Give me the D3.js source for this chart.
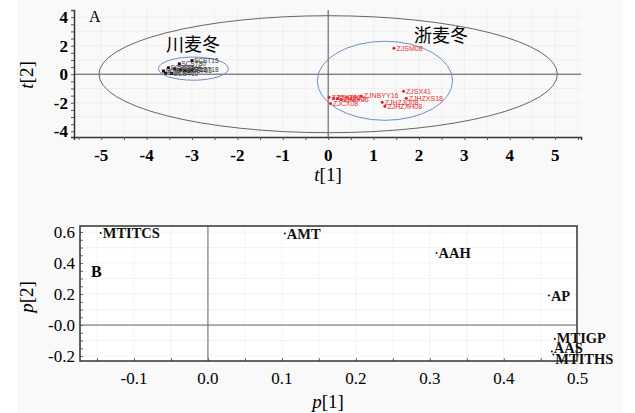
<!DOCTYPE html>
<html>
<head>
<meta charset="utf-8">
<script src="https://cdn.jsdelivr.net/npm/d3@7"></script>
<style>
  body { margin: 0; background: #fff; }
  text { font-family: "Liberation Serif", "Times New Roman", serif; }
</style>
</head>
<body>
<svg width="635" height="413"></svg>
<script>
// score plot, group 川麦冬
var scNames = ["SCST15", "SCST80", "SCST21", "SCST09", "SCST16", "SCST12", "SCST18", "SCST10", "SCST05", "SCST03"];
var scT1 = [-3.0, -3.28, -3.52, -3.63, -3.58, -3.26, -3.0, -3.45, -3.38, -3.15];
var scT2 = [0.95, 0.72, 0.45, 0.22, 0.08, 0.30, 0.30, 0.05, 0.38, 0.25];
// score plot, group 浙麦冬
var zjNames = ["ZJSM08", "ZJSX41", "ZJHZXS18", "ZJNBYY16", "ZJHZJQ08", "ZJHZXH08", "ZJCX10", "ZJHZ02", "ZJHZ05", "ZJCX06", "ZJCX08"];
var zjT1 = [1.45, 1.66, 1.72, 0.73, 1.19, 1.25, 0.02, 0.12, 0.20, 0.28, 0.05];
var zjT2 = [1.82, -1.19, -1.68, -1.53, -1.96, -2.25, -1.62, -1.66, -1.70, -1.78, -2.05];
// loading plot
var loadNames = ["MTITCS", "AMT", "AAH", "AP", "MTIGP", "AAS", "MTITHS"];
var loadP1 = [-0.145, 0.104, 0.309, 0.461, 0.469, 0.465, 0.467];
var loadP2 = [0.594, 0.59, 0.465, 0.19, -0.09, -0.17, -0.19];
var topXTicks = [-5, -4, -3, -2, -1, 0, 1, 2, 3, 4, 5];
var topYTicks = [-4, -2, 0, 2, 4];
var botXTicks = [-0.1, 0.0, 0.1, 0.2, 0.3, 0.4, 0.5];
var botYTicks = [-0.2, 0.0, 0.2, 0.4, 0.6];

var fmt1 = function(d) { return d.toFixed(1); };

var svg = d3.select("svg");
svg.append("rect").attr("x", 17).attr("y", 0).attr("width", 605).attr("height", 413).attr("fill", "#f9f9f9");

// ---------- panel A ----------
var x = d3.scaleLinear().domain([-5.6, 5.57]).range([74, 581]),
    y = d3.scaleLinear().domain([-4.4, 4.5]).range([137, 10]);

var gA = svg.append("g");
gA.selectAll(".gx").data(d3.range(-5.5, 5.6, 0.5)).enter().append("line")
  .attr("x1", d => x(d)).attr("x2", d => x(d)).attr("y1", y(4.5)).attr("y2", y(-4.4))
  .attr("stroke", "#ececec").attr("stroke-width", 0.7);
gA.selectAll(".gy").data(d3.range(-4, 4.1, 1)).enter().append("line")
  .attr("x1", x(-5.6)).attr("x2", x(5.57)).attr("y1", d => y(d)).attr("y2", d => y(d))
  .attr("stroke", "#ececec").attr("stroke-width", 0.7);

// zero lines
gA.append("line").attr("x1", x(-5.6)).attr("x2", x(5.57)).attr("y1", y(0)).attr("y2", y(0)).attr("stroke", "#555");
gA.append("line").attr("x1", x(0)).attr("x2", x(0)).attr("y1", y(4.5)).attr("y2", y(-4.4)).attr("stroke", "#555");

// Hotelling ellipse and group ellipses
gA.append("ellipse").attr("cx", x(0)).attr("cy", y(0))
  .attr("rx", x(5.05) - x(0)).attr("ry", y(0) - y(4.1))
  .attr("fill", "none").attr("stroke", "#666").attr("stroke-width", 1);
gA.append("ellipse").attr("cx", x(-2.97)).attr("cy", y(0.39))
  .attr("rx", x(0.77) - x(0)).attr("ry", y(0) - y(0.81))
  .attr("fill", "none").attr("stroke", "#6f8cc9").attr("stroke-width", 1);
gA.append("ellipse").attr("cx", x(1.25)).attr("cy", y(-0.46))
  .attr("rx", x(1.49) - x(0)).attr("ry", y(0) - y(2.77))
  .attr("fill", "none").attr("stroke", "#6f8cc9").attr("stroke-width", 1);

// axes
var axX = gA.append("g").attr("transform", "translate(0," + y(-4.4) + ")")
  .call(d3.axisBottom(x).tickValues(d3.range(-5.5, 5.6, 0.5)).tickSize(3).tickFormat(""));
var axY = gA.append("g").attr("transform", "translate(" + x(-5.6) + ",0)")
  .call(d3.axisLeft(y).tickValues(d3.range(-4, 4.6, 0.5)).tickSize(3).tickFormat(""));
[axX, axY].forEach(function(a) {
  a.select(".domain").attr("stroke", "#333").attr("stroke-width", 1.5);
  a.selectAll(".tick line").attr("stroke", "#555");
});
gA.selectAll(".xt").data(topXTicks).enter().append("text")
  .attr("x", d => x(d)).attr("y", 161).attr("text-anchor", "middle")
  .attr("font-size", 17).attr("font-weight", "bold").text(d => String(d));
gA.selectAll(".yt").data(topYTicks).enter().append("text")
  .attr("x", 68).attr("y", d => y(d)).attr("dy", "0.35em").attr("text-anchor", "end")
  .attr("font-size", 17).attr("font-weight", "bold").text(d => String(d));

var tl1 = gA.append("text").attr("x", 328).attr("y", 181).attr("text-anchor", "middle").attr("font-size", 19);
tl1.append("tspan").attr("font-style", "italic").text("t");
tl1.append("tspan").text("[1]");
var tl2 = gA.append("text").attr("transform", "translate(33,75) rotate(-90)").attr("text-anchor", "middle").attr("font-size", 19);
tl2.append("tspan").attr("font-style", "italic").text("t");
tl2.append("tspan").text("[2]");

gA.append("text").attr("x", 89).attr("y", 22).attr("font-size", 16).text("A");
gA.append("text").attr("x", 166).attr("y", 51).attr("font-size", 18)
  .style("font-family", "'Noto Sans CJK SC', sans-serif").text("川麦冬");
gA.append("text").attr("x", 414).attr("y", 42).attr("font-size", 18)
  .style("font-family", "'Noto Sans CJK SC', sans-serif").text("浙麦冬");

// points
var sc = d3.range(scNames.length);
gA.selectAll(".scp").data(sc).enter().append("rect")
  .attr("x", i => x(scT1[i]) - 1.5).attr("y", i => y(scT2[i]) - 1.5)
  .attr("width", 3).attr("height", 3).attr("fill", "#111");
gA.selectAll(".scl").data(sc).enter().append("text")
  .attr("x", i => x(scT1[i]) + 2).attr("y", i => y(scT2[i])).attr("dy", "0.35em")
  .attr("font-size", 6.5).attr("fill", "#333").style("font-family", "'Liberation Sans', sans-serif")
  .text(i => scNames[i]);

var zj = d3.range(zjNames.length);
gA.selectAll(".zjp").data(zj).enter().append("circle")
  .attr("cx", i => x(zjT1[i])).attr("cy", i => y(zjT2[i])).attr("r", 1.5).attr("fill", "#e62020");
gA.selectAll(".zjl").data(zj).enter().append("text")
  .attr("x", i => x(zjT1[i]) + 2.5).attr("y", i => y(zjT2[i])).attr("dy", "0.35em")
  .attr("font-size", 7).attr("fill", "#e63030").style("font-family", "'Liberation Sans', sans-serif")
  .text(i => zjNames[i]);

// ---------- panel B ----------
var x2 = d3.scaleLinear().domain([-0.173, 0.499]).range([80, 577]),
    y2 = d3.scaleLinear().domain([-0.232, 0.639]).range([361, 226]);

var gB = svg.append("g");
gB.append("rect").attr("x", 80).attr("y", 226).attr("width", 497).attr("height", 135).attr("fill", "#fff");
gB.selectAll(".gx").data(d3.range(-0.15, 0.5, 0.05)).enter().append("line")
  .attr("x1", d => x2(d)).attr("x2", d => x2(d)).attr("y1", 226).attr("y2", 361)
  .attr("stroke", "#efefef").attr("stroke-width", 0.7);
gB.selectAll(".gy").data(d3.range(-0.2, 0.61, 0.1)).enter().append("line")
  .attr("x1", 80).attr("x2", 577).attr("y1", d => y2(d)).attr("y2", d => y2(d))
  .attr("stroke", "#efefef").attr("stroke-width", 0.7);
gB.append("line").attr("x1", 80).attr("x2", 577).attr("y1", y2(0)).attr("y2", y2(0)).attr("stroke", "#666");
gB.append("line").attr("x1", x2(0)).attr("x2", x2(0)).attr("y1", 226).attr("y2", 361).attr("stroke", "#666");

var bX = gB.append("g").attr("transform", "translate(0,361)")
  .call(d3.axisTop(x2).tickValues(d3.range(-0.15, 0.5, 0.05)).tickSize(3).tickFormat(""));
var bY = gB.append("g").attr("transform", "translate(80,0)")
  .call(d3.axisRight(y2).tickValues(d3.range(-0.2, 0.61, 0.05)).tickSize(3).tickFormat(""));
[bX, bY].forEach(function(a) {
  a.select(".domain").remove();
  a.selectAll(".tick line").attr("stroke", "#666");
});
gB.append("rect").attr("x", 80).attr("y", 226).attr("width", 497).attr("height", 135)
  .attr("fill", "none").attr("stroke", "#333").attr("stroke-width", 1.5);

gB.selectAll(".xt").data(botXTicks).enter().append("text")
  .attr("x", d => x2(d)).attr("y", 384).attr("text-anchor", "middle")
  .attr("font-size", 17).text(fmt1);
gB.selectAll(".yt").data(botYTicks).enter().append("text")
  .attr("x", 75).attr("y", d => y2(d)).attr("dy", "0.35em").attr("text-anchor", "end")
  .attr("font-size", 17).text(d => d === 0 ? "-0.0" : fmt1(d));

var pl1 = gB.append("text").attr("x", 328).attr("y", 408).attr("text-anchor", "middle").attr("font-size", 19);
pl1.append("tspan").attr("font-style", "italic").text("p");
pl1.append("tspan").text("[1]");
var pl2 = gB.append("text").attr("transform", "translate(33,297) rotate(-90)").attr("text-anchor", "middle").attr("font-size", 19);
pl2.append("tspan").attr("font-style", "italic").text("p");
pl2.append("tspan").text("[2]");

gB.append("text").attr("x", 91).attr("y", 277).attr("font-size", 16).attr("font-weight", "bold").text("B");

// label nudges so stacked names read like the original
var labelShift = [0, 0, 0, 0, -1, -4, 4];
var ld = d3.range(loadNames.length);
gB.selectAll(".lp").data(ld).enter().append("circle")
  .attr("cx", i => x2(loadP1[i])).attr("cy", i => y2(loadP2[i])).attr("r", 1).attr("fill", "#111");
gB.selectAll(".ll").data(ld).enter().append("text")
  .attr("x", i => x2(loadP1[i]) + 2).attr("y", i => y2(loadP2[i]) + labelShift[i]).attr("dy", "0.36em")
  .attr("font-size", 14.5).attr("font-weight", "bold").attr("fill", "#111")
  .text(i => loadNames[i]);
</script>
</body>
</html>
